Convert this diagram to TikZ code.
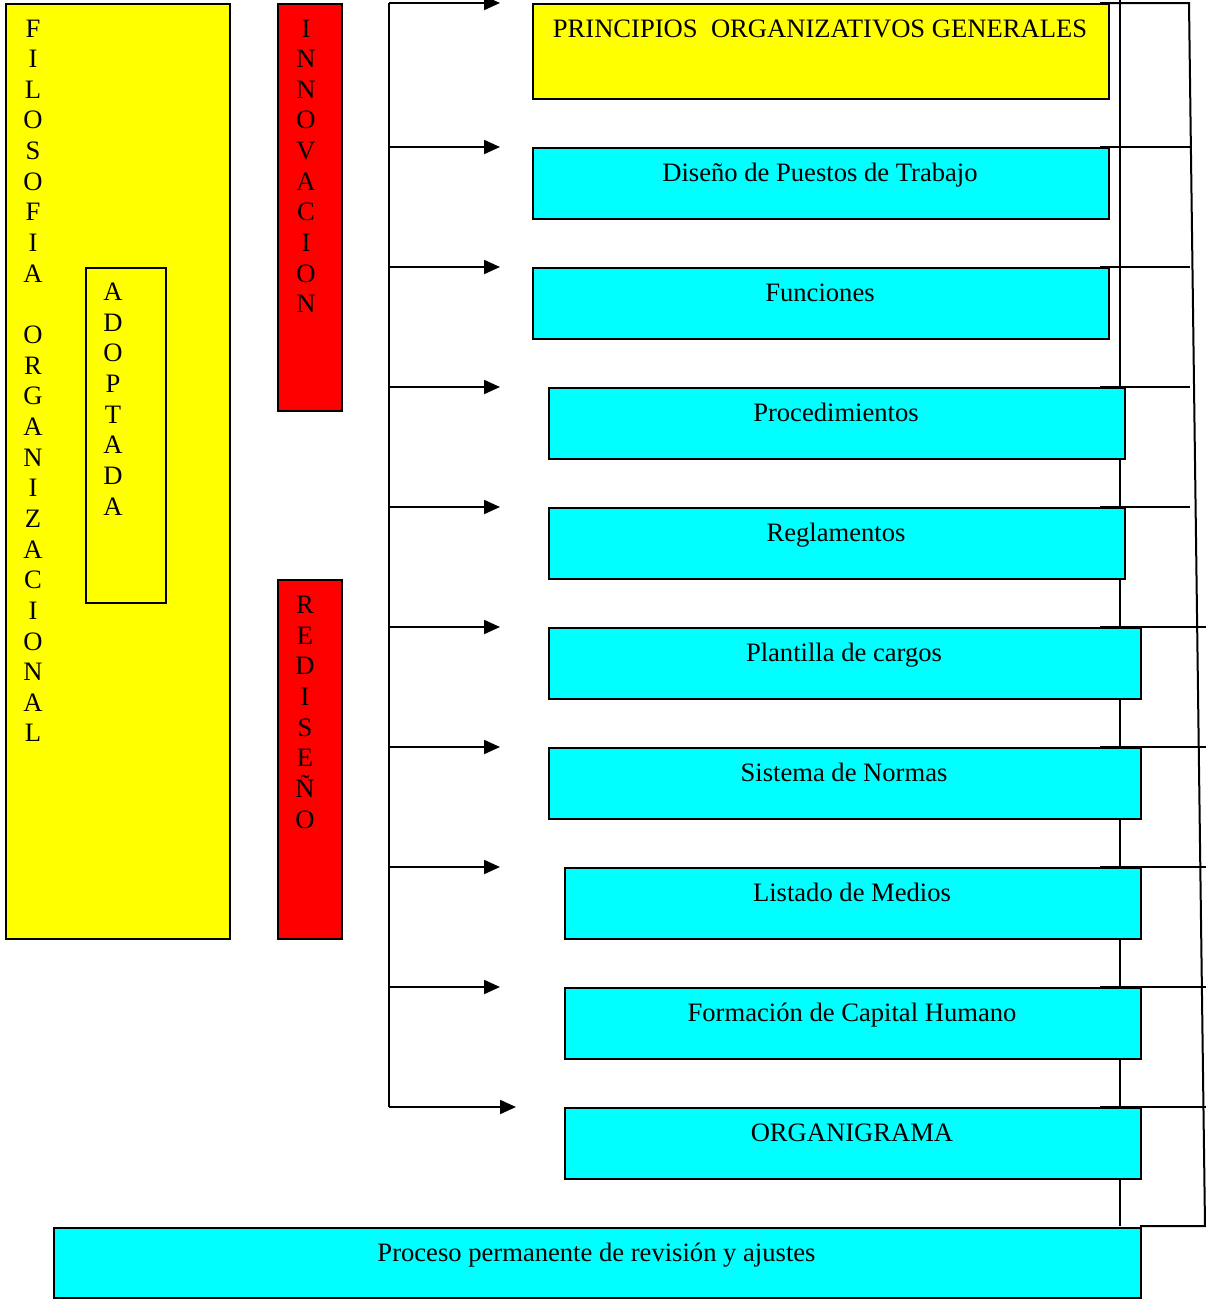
\documentclass[tikz,border=0pt]{standalone}
\usepackage{fontspec}
\setmainfont{Liberation Serif}
\usetikzlibrary{arrows.meta}
\definecolor{yelx}{RGB}{255,255,0}
\definecolor{cyx}{RGB}{0,255,255}
\definecolor{redx}{RGB}{255,0,0}
\begin{document}
\begin{tikzpicture}[x=1pt,y=-1pt,
  box/.style={draw=black, line width=2pt, rectangle, inner sep=0pt, anchor=north west},
  ybox/.style={box, fill=yelx},
  cbox/.style={box, fill=cyx},
  rbox/.style={box, fill=redx},
  txt/.style={font=\fontsize{26.6}{31}\selectfont, inner sep=0pt, anchor=base},
  arr/.style={line width=2pt, -{Triangle[length=16pt,width=14pt]}},
  conn/.style={line width=2pt}]
\useasboundingbox (0,0) rectangle (1206,1299);

% right-hand frame lines (behind boxes)
\coordinate (r0top) at (1120,0);
\coordinate (r0bot) at (1120,1226);
\draw[conn] (r0top) -- (r0bot);
\coordinate (s1) at (1189,3);
\coordinate (s2) at (1205,1226);
\coordinate (s3) at (1140,1226);
\draw[conn] (1100,3) -- (s1) -- (s2) -- (s3);
\foreach \yy in {147,267,387,507}{
  \coordinate (re\yy) at (1190,\yy);
  \draw[conn] (1100,\yy) -- (re\yy);
}
\foreach \yy in {627,747,867,987,1107}{
  \coordinate (re\yy) at (1206,\yy);
  \draw[conn] (1100,\yy) -- (re\yy);
}

% left column boxes
\node[ybox, minimum width=224pt, minimum height=935pt] (filo) at (5,3) {};
\node[box, fill=yelx, minimum width=80pt, minimum height=335pt] (adop) at (85,267) {};
\node[rbox, minimum width=64pt, minimum height=407pt] (inno) at (277,3) {};
\node[rbox, minimum width=64pt, minimum height=359pt] (redi) at (277,579) {};

\foreach \l [count=\i from 0] in {F,I,L,O,S,O,F,I,A,{},O,R,G,A,N,I,Z,A,C,I,O,N,A,L}
  \node[txt] (fo\i) at (33,{37+30.65*\i}) {\l};
\foreach \l [count=\i from 0] in {A,D,O,P,T,A,D,A}
  \node[txt] (ad\i) at (113,{300.5+30.65*\i}) {\l};
\foreach \l [count=\i from 0] in {I,N,N,O,V,A,C,I,O,N}
  \node[txt] (in\i) at (306,{37+30.65*\i}) {\l};
\foreach \l [count=\i from 0] in {R,E,D,I,S,E,Ñ,O}
  \node[txt] (re\i) at (305,{613.5+30.65*\i}) {\l};

% right column boxes
\node[ybox, minimum width=576pt, minimum height=95pt] (b1) at (532,3) {};
\node[cbox, minimum width=576pt, minimum height=71pt] (b2) at (532,147) {};
\node[cbox, minimum width=576pt, minimum height=71pt] (b3) at (532,267) {};
\node[cbox, minimum width=576pt, minimum height=71pt] (b4) at (548,387) {};
\node[cbox, minimum width=576pt, minimum height=71pt] (b5) at (548,507) {};
\node[cbox, minimum width=592pt, minimum height=71pt] (b6) at (548,627) {};
\node[cbox, minimum width=592pt, minimum height=71pt] (b7) at (548,747) {};
\node[cbox, minimum width=576pt, minimum height=71pt] (b8) at (564,867) {};
\node[cbox, minimum width=576pt, minimum height=71pt] (b9) at (564,987) {};
\node[cbox, minimum width=576pt, minimum height=71pt] (b10) at (564,1107) {};
\node[cbox, minimum width=1087pt, minimum height=70pt] (b11) at (53,1227) {};

\node[txt] (t1) at (820,37) {PRINCIPIOS~ ORGANIZATIVOS GENERALES};
\node[txt] (t2) at (820,181) {Diseño de Puestos de Trabajo};
\node[txt] (t3) at (820,301) {Funciones};
\node[txt] (t4) at (836,421) {Procedimientos};
\node[txt] (t5) at (836,541) {Reglamentos};
\node[txt] (t6) at (844,661) {Plantilla de cargos};
\node[txt] (t7) at (844,781) {Sistema de Normas};
\node[txt] (t8) at (852,901) {Listado de Medios};
\node[txt] (t9) at (852,1021) {Formación de Capital Humano};
\node[txt] (t10) at (852,1141) {ORGANIGRAMA};
\node[txt] (t11) at (596.5,1261) {Proceso permanente de revisión y ajustes};

% left spine and arrows
\coordinate (L1) at (389,3);
\coordinate (L10) at (389,1107);
\draw[conn] (L10) -- (L1);
\foreach \yy in {3,147,267,387,507,627,747,867,987}{
  \coordinate (Ls\yy) at (389,\yy);
  \coordinate (At\yy) at (500,\yy);
  \draw[arr] (Ls\yy) -- (At\yy);
}
\coordinate (At1107) at (516,1107);
\draw[arr] (L10) -- (At1107);
\end{tikzpicture}
\end{document}
